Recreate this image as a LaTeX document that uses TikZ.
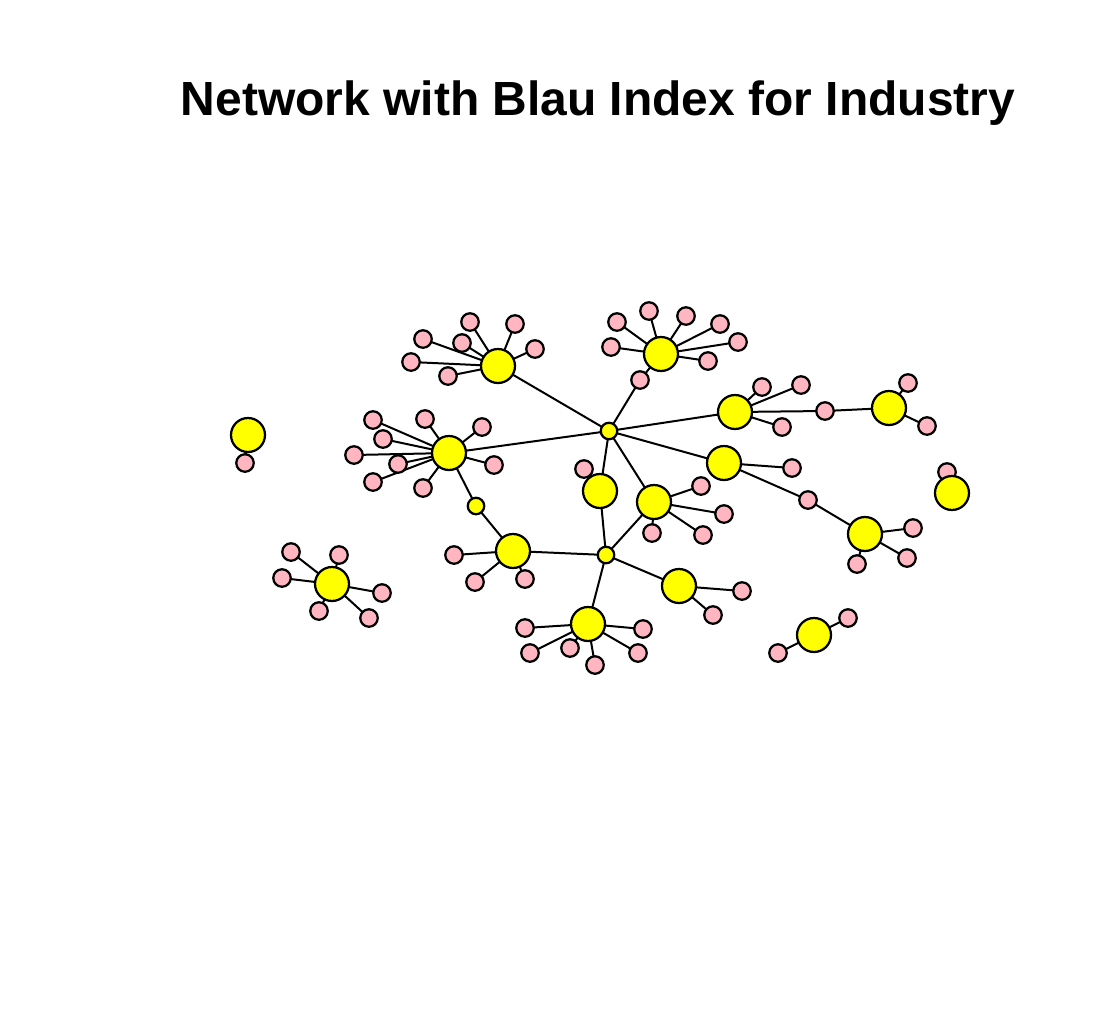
\documentclass[tikz,border=0pt]{standalone}
\usepackage{fontspec}
\setmainfont{Liberation Sans}
\usepackage{xcolor}
\usepackage{tikz}
\usetikzlibrary{backgrounds}

\definecolor{orgyellow}{HTML}{FFFF00}
\definecolor{personpink}{HTML}{FFB6C1}

\begin{document}
\begin{tikzpicture}[x=0.02cm, y=-0.02cm, line width=0.045cm,
  org/.style={circle,inner sep=0pt,minimum size=0.68cm,fill=orgyellow,draw=black},
  person/.style={circle,inner sep=0pt,minimum size=0.35cm,fill=personpink,draw=black},
  hub/.style={circle,inner sep=0pt,minimum size=0.33cm,fill=orgyellow,draw=black},
  tie/.style={line width=0.04cm,draw=black}]

\useasboundingbox (0,0) rectangle (1100,1025);

\node (title) at (598,115) [anchor=base] {\fontsize{27.3}{32}\selectfont\bfseries Network with Blau Index for Industry};

% hubs
\node (hubn) at (609,431) [hub] {};
\node (hubs) at (606,555) [hub] {};
\node (hubw) at (476,506) [hub] {};

% organisations
\node (A) at (498,366) [org] {};
\node (B) at (661,354) [org] {};
\node (C) at (449,453) [org] {};
\node (D) at (735,412) [org] {};
\node (E) at (889,408) [org] {};
\node (F) at (724,463) [org] {};
\node (G) at (600,491) [org] {};
\node (H) at (654,502) [org] {};
\node (I) at (513,551) [org] {};
\node (J) at (679,586) [org] {};
\node (K) at (588,624) [org] {};
\node (L) at (865,534) [org] {};
\node (M) at (332,584) [org] {};
\node (N) at (248,435) [org] {};
\node (o1) at (947,472) [person] {};
\node (O) at (952,493) [org] {};
\node (P) at (814,635) [org] {};

% persons
\node (a1) at (470,322) [person] {};
\node (a2) at (515,324) [person] {};
\node (a3) at (423,339) [person] {};
\node (a4) at (462,343) [person] {};
\node (a5) at (535,349) [person] {};
\node (a6) at (411,362) [person] {};
\node (a7) at (448,376) [person] {};

\node (b1) at (649,311) [person] {};
\node (b2) at (617,322) [person] {};
\node (b3) at (686,316) [person] {};
\node (b4) at (720,324) [person] {};
\node (b5) at (611,347) [person] {};
\node (b6) at (738,342) [person] {};
\node (b7) at (708,361) [person] {};
\node (b8) at (640,380) [person] {};

\node (c1) at (373,420) [person] {};
\node (c2) at (425,419) [person] {};
\node (c3) at (383,439) [person] {};
\node (c4) at (482,427) [person] {};
\node (c5) at (354,455) [person] {};
\node (c6) at (398,464) [person] {};
\node (c7) at (494,465) [person] {};
\node (c8) at (373,482) [person] {};
\node (c9) at (423,488) [person] {};

\node (d1) at (762,387) [person] {};
\node (d2) at (801,385) [person] {};
\node (d3) at (782,427) [person] {};
\node (d4) at (825,411) [person] {};

\node (e1) at (908,383) [person] {};
\node (e2) at (927,426) [person] {};

\node (f1) at (792,468) [person] {};
\node (f2) at (808,500) [person] {};

\node (g1) at (584,469) [person] {};

\node (h1) at (701,486) [person] {};
\node (h2) at (724,514) [person] {};
\node (h3) at (652,533) [person] {};
\node (h4) at (703,535) [person] {};

\node (i1) at (454,555) [person] {};
\node (i2) at (475,582) [person] {};
\node (i3) at (525,579) [person] {};

\node (j1) at (742,591) [person] {};
\node (j2) at (713,615) [person] {};

\node (k1) at (525,628) [person] {};
\node (k2) at (530,653) [person] {};
\node (k3) at (570,648) [person] {};
\node (k4) at (595,665) [person] {};
\node (k5) at (643,629) [person] {};
\node (k6) at (638,653) [person] {};

\node (l1) at (913,528) [person] {};
\node (l2) at (907,558) [person] {};
\node (l3) at (857,564) [person] {};

\node (m1) at (291,552) [person] {};
\node (m2) at (339,555) [person] {};
\node (m3) at (282,578) [person] {};
\node (m4) at (382,593) [person] {};
\node (m5) at (319,611) [person] {};
\node (m6) at (369,618) [person] {};

\node (n1) at (245,463) [person] {};

\node (p1) at (848,618) [person] {};
\node (p2) at (778,653) [person] {};

% ties
\begin{pgfonlayer}{background}
\foreach \t in {A,C,b8,D,F,G,H} \draw[tie] (hubn.center) -- (\t.center);
\foreach \t in {G,H,I,J,K} \draw[tie] (hubs.center) -- (\t.center);
\draw[tie] (C.center) -- (hubw.center) -- (I.center);
\draw[tie] (b8.center) -- (B.center);
\draw[tie] (D.center) -- (d4.center) -- (E.center);
\draw[tie] (F.center) -- (f2.center) -- (L.center);
\foreach \i in {1,...,7} \draw[tie] (A.center) -- (a\i.center);
\foreach \i in {1,...,7} \draw[tie] (B.center) -- (b\i.center);
\foreach \i in {1,...,9} \draw[tie] (C.center) -- (c\i.center);
\foreach \i in {1,...,3} \draw[tie] (D.center) -- (d\i.center);
\foreach \i in {1,2} \draw[tie] (E.center) -- (e\i.center);
\draw[tie] (F.center) -- (f1.center);
\draw[tie] (G.center) -- (g1.center);
\foreach \i in {1,...,4} \draw[tie] (H.center) -- (h\i.center);
\foreach \i in {1,...,3} \draw[tie] (I.center) -- (i\i.center);
\foreach \i in {1,2} \draw[tie] (J.center) -- (j\i.center);
\foreach \i in {1,...,6} \draw[tie] (K.center) -- (k\i.center);
\foreach \i in {1,...,3} \draw[tie] (L.center) -- (l\i.center);
\foreach \i in {1,...,6} \draw[tie] (M.center) -- (m\i.center);
\draw[tie] (N.center) -- (n1.center);
\draw[tie] (O.center) -- (o1.center);
\foreach \i in {1,2} \draw[tie] (P.center) -- (p\i.center);
\end{pgfonlayer}

\end{tikzpicture}
\end{document}
